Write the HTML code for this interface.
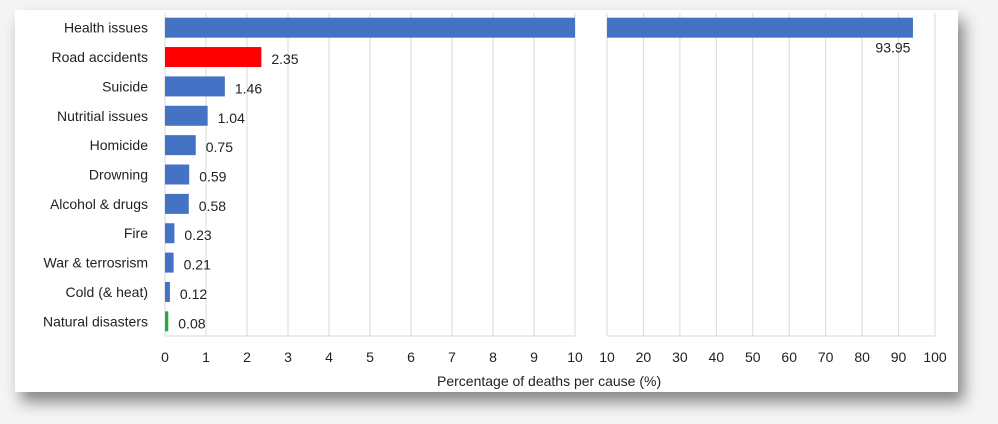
<!DOCTYPE html>
<html><head><meta charset="utf-8"><style>
body{margin:0;background:#f4f4f4;width:998px;height:424px;overflow:hidden;font-family:"Liberation Sans",sans-serif}
#frame{position:absolute;left:15px;top:10px;width:943px;height:382px;background:#fff;box-shadow:6px 10px 14px rgba(0,0,0,0.45)}
svg{position:absolute;left:0;top:0}
text{font-family:"Liberation Sans",sans-serif;font-size:14px;fill:#222}
</style></head><body>
<div id="frame"></div>
<svg id="chart" width="998" height="424"></svg>
<script>
const categories=["Health issues","Road accidents","Suicide","Nutritial issues","Homicide","Drowning","Alcohol & drugs","Fire","War & terrosrism","Cold (& heat)","Natural disasters"];
const values=[93.95,2.35,1.46,1.04,0.75,0.59,0.58,0.23,0.21,0.12,0.08];
const colors=["#4472c4","#ff0000","#4472c4","#4472c4","#4472c4","#4472c4","#4472c4","#4472c4","#4472c4","#4472c4","#22aa44"];
const leftTicks=[0,1,2,3,4,5,6,7,8,9,10];
const rightTicks=[10,20,30,40,50,60,70,80,90,100];
const NS="http://www.w3.org/2000/svg",svgEl=document.getElementById('chart');
function el(t,a,txt){const e=document.createElementNS(NS,t);for(const k in a)e.setAttribute(k,a[k]);if(txt!=null)e.textContent=txt;svgEl.appendChild(e);return e;}
const yTop=13,yBot=336,rowH=(yBot-yTop)/categories.length,barH=20;
const xL=v=>165+v*41, xR=v=>607+(v-10)*(935-607)/90;
const yC=i=>yTop+rowH*(i+0.5);
leftTicks.forEach(t=>{const g=el('line',{x1:xL(t),x2:xL(t),y1:yTop,y2:yBot,stroke:'#d9d9d9'});


const l=el('text',{x:xL(t),y:362,'text-anchor':'middle'},t);

});
el('line',{x1:165,x2:575,y1:yBot,y2:yBot,stroke:'#d9d9d9'});
rightTicks.forEach(t=>{const g=el('line',{x1:xR(t),x2:xR(t),y1:yTop,y2:yBot,stroke:'#d9d9d9'});


const l=el('text',{x:xR(t),y:362,'text-anchor':'middle'},t);

});
el('line',{x1:607,x2:935,y1:yBot,y2:yBot,stroke:'#d9d9d9'});
categories.forEach((c,i)=>{
 const y=yC(i);
 const lab=el('text',{x:148,y:y+5,'text-anchor':'end'},c);
 
 
 const v=values[i];
 const w=Math.max(2,xL(Math.min(v,10))-165);
 const b=el('rect',{x:165,y:y-barH/2,width:w,height:barH,fill:colors[i]});
 
 
 if(v>10){
  const b2=el('rect',{x:607,y:y-barH/2,width:xR(v)-607,height:barH,fill:colors[i]});
  
  
  const t=el('text',{x:xR(v)-20,y:y+25,'text-anchor':'middle'},v.toFixed(2));
  
  
 } else {
  const t=el('text',{x:165+w+10,y:y+7},v.toFixed(2));
  
  
 }
});
const at=el('text',{x:437,y:386},'Percentage of deaths  per cause (%)');


</script>
</body></html>
